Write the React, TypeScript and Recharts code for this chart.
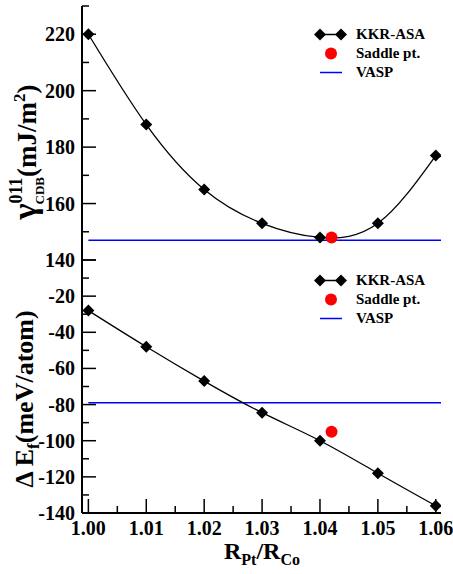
import { ComposedChart, Line, Scatter, XAxis, YAxis, Legend } from 'recharts';

const FONT = "'Liberation Serif', 'Times New Roman', serif";

// data
const ratio = [1.0, 1.01, 1.02, 1.03, 1.04, 1.05, 1.06];
const gammaKkrAsa = [220, 188, 165, 153, 148, 153, 177];
const deltaEKkrAsa = [-28, -48, -67, -84.5, -100, -118, -136];
const saddleRatio = [1.042];
const gammaSaddle = [148];
const deltaESaddle = [-95];
const gammaVasp = 147;
const deltaEVasp = -79;

const xTicks = [1.0, 1.005, 1.01, 1.015, 1.02, 1.025, 1.03, 1.035, 1.04, 1.045, 1.05, 1.055, 1.06];
const gammaTicks = [140, 150, 160, 170, 180, 190, 200, 210, 220, 230];
const deltaETicks = [-140, -130, -120, -110, -100, -90, -80, -70, -60, -50, -40, -30, -20, -10, 0];
const xDomain: [number, number] = [0.9989, 1.0609];

type Side = 'left' | 'right' | 'top' | 'bottom';

const xMajor = (v: number) => Math.round(v * 1000) % 10 === 0;
const yMajor = (v: number) => Math.round(v) % 20 === 0;
const xLabel = (v: number) => (xMajor(v) ? v.toFixed(2) : '');
const yLabel = (v: number) => (yMajor(v) && v !== 0 ? String(v) : '');

const tickMark = (side: Side, isMajor: (v: number) => boolean, label?: (v: number) => string) => (p: any) => {
  const { x, y, payload } = p;
  const v = payload.value;
  const len = isMajor(v) ? 14 : 7;
  const d = { left: [len, 0], right: [-len, 0], top: [0, len], bottom: [0, -len] }[side];
  const txt = label ? label(v) : '';
  return (
    <g>
      <line x1={x} y1={y} x2={x + d[0]} y2={y + d[1]} stroke="#000" strokeWidth={1.5} />
      {txt && side === 'left' && (
        <text x={x - 7} y={y + 7} textAnchor="end" fontFamily={FONT} fontWeight={700} fontSize={20} fill="#000">
          {txt}
        </text>
      )}
      {txt && side === 'bottom' && (
        <text x={x} y={y + 22} textAnchor="middle" fontFamily={FONT} fontWeight={700} fontSize={20} fill="#000">
          {txt}
        </text>
      )}
    </g>
  );
};

const Diamond = (p: any) => {
  const { cx, cy, index } = p;
  if (cx == null || cy == null) return <g key={index} />;
  const r = 6;
  return <polygon key={index} points={`${cx},${cy - r} ${cx + r},${cy} ${cx},${cy + r} ${cx - r},${cy}`} fill="#000" />;
};

const RedDot = (p: any) => <circle cx={p.cx} cy={p.cy} r={6} fill="#ff0000" />;

const LegendBox = () => (
  <div style={{ background: '#fff', width: 125, paddingLeft: 4, fontFamily: FONT, fontWeight: 700, fontSize: 15, color: '#000' }}>
    {['KKR-ASA', 'Saddle pt.', 'VASP'].map((name, i) => (
      <div key={name} style={{ display: 'flex', alignItems: 'center', height: 19 }}>
        <svg width={36} height={19} style={{ marginRight: 8 }}>
          {i === 0 && (
            <g>
              <line x1={8} y1={9.5} x2={29} y2={9.5} stroke="#000" strokeWidth={1.5} />
              <polygon points="8,3.5 14,9.5 8,15.5 2,9.5" fill="#000" />
              <polygon points="29,3.5 35,9.5 29,15.5 23,9.5" fill="#000" />
            </g>
          )}
          {i === 1 && <circle cx={19} cy={9.5} r={6} fill="#ff0000" />}
          {i === 2 && <line x1={8} y1={9.5} x2={30} y2={9.5} stroke="#0000ff" strokeWidth={1.5} />}
        </svg>
        <span style={{ lineHeight: '19px' }}>{name}</span>
      </div>
    ))}
  </div>
);

const GammaLabel = () => (
  <text transform="rotate(-90)" x={-152} y={36} textAnchor="middle" fontFamily={FONT} fontWeight={700} fontSize={27} fill="#000">
    <tspan fontSize={34}>γ</tspan>
    <tspan fontSize={18} dy={-14}>011</tspan>
    <tspan fontSize={13} dx={-27} dy={22}>CDB</tspan>
    <tspan dy={-8}>(mJ/m</tspan>
    <tspan fontSize={17} dy={-11}>2</tspan>
    <tspan dy={11}>)</tspan>
  </text>
);

const DeltaLabel = () => (
  <text transform="rotate(-90)" x={-141} y={33} textAnchor="middle" fontFamily={FONT} fontWeight={700} fontSize={26} fill="#000">
    Δ E<tspan fontSize={17} dy={6}>f</tspan>
    <tspan dy={-6}>(meV/atom)</tspan>
  </text>
);

const RatioLabel = () => (
  <text x={262} y={301} textAnchor="middle" fontFamily={FONT} fontWeight={700} fontSize={24} fill="#000">
    R<tspan fontSize={16} dy={6}>Pt</tspan>
    <tspan dy={-6}>/R</tspan>
    <tspan fontSize={16} dy={6}>Co</tspan>
  </text>
);

interface PanelProps {
  values: number[];
  saddle: number[];
  vasp: number;
  yDomain: [number, number];
  yTicks: number[];
  height: number;
  margin: { top: number; right: number; bottom: number; left: number };
  xAxisHeight: number;
  showXLabels: boolean;
  legendTop: number;
  yTitle: () => JSX.Element;
  xTitle?: () => JSX.Element;
}

function Panel({ values, saddle, vasp, yDomain, yTicks, height, margin, xAxisHeight, showXLabels, legendTop, yTitle, xTitle }: PanelProps) {
  const kkr = ratio.map((x, i) => ({ x, y: values[i] }));
  const saddleData = saddleRatio.map((x, i) => ({ x, y: saddle[i] }));
  const vaspData = [
    { x: ratio[0], y: vasp },
    { x: xDomain[1], y: vasp },
  ];
  const axisLine = { stroke: '#000', strokeWidth: 2 };
  return (
    <ComposedChart width={453} height={height} margin={margin}>
      <XAxis
        dataKey="x"
        type="number"
        domain={xDomain}
        allowDataOverflow
        ticks={xTicks}
        interval={0}
        height={xAxisHeight}
        tickLine={false}
        tickSize={0}
        tickMargin={0}
        axisLine={axisLine}
        tick={tickMark('bottom', xMajor, showXLabels ? xLabel : undefined)}
        label={xTitle}
      />
      <XAxis
        xAxisId="top"
        orientation="top"
        dataKey="x"
        type="number"
        domain={xDomain}
        allowDataOverflow
        ticks={xTicks}
        interval={0}
        height={0}
        tickLine={false}
        tickSize={0}
        tickMargin={0}
        axisLine={axisLine}
        tick={tickMark('top', xMajor)}
      />
      <YAxis
        dataKey="y"
        type="number"
        domain={yDomain}
        allowDataOverflow
        ticks={yTicks}
        interval={0}
        width={82}
        tickLine={false}
        tickSize={0}
        tickMargin={0}
        axisLine={axisLine}
        tick={tickMark('left', yMajor, yLabel)}
        label={yTitle}
      />
      <YAxis
        yAxisId="right"
        orientation="right"
        dataKey="y"
        type="number"
        domain={yDomain}
        allowDataOverflow
        ticks={yTicks}
        interval={0}
        width={0}
        tickLine={false}
        tickSize={0}
        tickMargin={0}
        axisLine={axisLine}
        tick={tickMark('right', yMajor)}
      />
      <Line data={vaspData} dataKey="y" type="linear" stroke="#0000ff" strokeWidth={1.5} dot={false} isAnimationActive={false} />
      <Line data={kkr} dataKey="y" type="natural" stroke="#000" strokeWidth={1.3} dot={Diamond} activeDot={false} isAnimationActive={false} />
      <Scatter data={saddleData} dataKey="y" fill="#ff0000" shape={RedDot} isAnimationActive={false} />
      <Legend
        layout="horizontal"
        verticalAlign="middle"
        align="center"
        content={LegendBox}
        wrapperStyle={{ top: legendTop, left: 308, width: 129, height: 60 }}
      />
    </ComposedChart>
  );
}

export default function App() {
  return (
    <div style={{ position: 'absolute', left: 0, top: 0, width: 453, height: 574, background: '#fff' }}>
      <div style={{ position: 'absolute', left: 0, top: 0 }}>
        <Panel
          values={gammaKkrAsa}
          saddle={gammaSaddle}
          vasp={gammaVasp}
          yDomain={[140, 230]}
          yTicks={gammaTicks}
          height={272}
          margin={{ top: 6, right: 12, bottom: 12, left: 0 }}
          xAxisHeight={0}
          showXLabels={false}
          legendTop={24.5}
          yTitle={GammaLabel}
        />
      </div>
      <div style={{ position: 'absolute', left: 0, top: 258 }}>
        <Panel
          values={deltaEKkrAsa}
          saddle={deltaESaddle}
          vasp={deltaEVasp}
          yDomain={[-140, 0]}
          yTicks={deltaETicks}
          height={316}
          margin={{ top: 2, right: 12, bottom: 0, left: 0 }}
          xAxisHeight={61}
          showXLabels
          legendTop={12.5}
          yTitle={DeltaLabel}
          xTitle={RatioLabel}
        />
      </div>
    </div>
  );
}
